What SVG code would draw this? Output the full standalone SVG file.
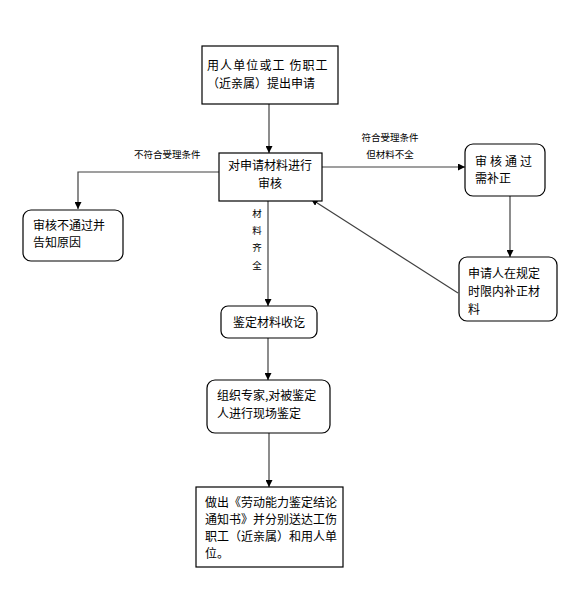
<svg xmlns="http://www.w3.org/2000/svg" width="579" height="599" viewBox="0 0 579 599">
<style>
.box{fill:#fff;stroke:#000;stroke-width:1.2}
.t{font-family:"Noto Sans CJK SC","Liberation Sans",sans-serif;font-size:12px;fill:#000}
.s{font-family:"Noto Sans CJK SC","Liberation Sans",sans-serif;font-size:9.5px;fill:#000}
.c{fill:none;stroke:#404040;stroke-width:1.2}
</style>
<defs>
<marker id="a" viewBox="0 0 10 10" refX="10" refY="5" markerWidth="7" markerHeight="7" orient="auto" markerUnits="userSpaceOnUse">
<path d="M0,0 L10,5 L0,10 z" fill="#000"/>
</marker>
</defs>
<rect width="579" height="599" fill="#fff"/>
<g id="connectors">
<line class="c" x1="269" y1="104" x2="269" y2="153" marker-end="url(#a)"/>
<polyline class="c" points="219,172 78,172 78,209" marker-end="url(#a)"/>
<line class="c" x1="322" y1="167" x2="465" y2="167" marker-end="url(#a)"/>
<line class="c" x1="510" y1="196" x2="510" y2="257" marker-end="url(#a)"/>
<line class="c" x1="458" y1="293" x2="311" y2="199" marker-end="url(#a)"/>
<line class="c" x1="268" y1="201" x2="268" y2="306" marker-end="url(#a)"/>
<line class="c" x1="268" y1="338" x2="268" y2="380" marker-end="url(#a)"/>
<line class="c" x1="269" y1="433" x2="269" y2="487" marker-end="url(#a)"/>
<text class="s" x="134" y="158">不符合受理条件</text>
<text class="s" x="390" y="141" text-anchor="middle">符合受理条件</text>
<text class="s" x="390" y="158" text-anchor="middle">但材料不全</text>
<g class="s" text-anchor="middle">
<text x="257" y="217">材</text>
<text x="257" y="234">料</text>
<text x="257" y="251">齐</text>
<text x="257" y="269">全</text>
</g>
</g>
<g id="n1">
<rect class="box" x="202" y="46" width="136" height="58"/>
<text class="t" x="207" y="70" letter-spacing="1.1">用人单位或工 伤职工</text>
<text class="t" x="207" y="88">（近亲属）提出申请</text>
</g>
<g id="n2">
<rect class="box" x="219" y="153" width="103" height="48"/>
<text class="t" x="270" y="170" text-anchor="middle">对申请材料进行</text>
<text class="t" x="270" y="188" text-anchor="middle">审核</text>
</g>
<g id="n3">
<rect class="box" x="465" y="144" width="80" height="52" rx="8"/>
<text class="t" x="475" y="166" letter-spacing="3">审核通过</text>
<text class="t" x="475" y="183">需补正</text>
</g>
<g id="n4">
<rect class="box" x="23" y="210" width="100" height="51" rx="8"/>
<text class="t" x="33" y="230">审核不通过并</text>
<text class="t" x="33" y="247">告知原因</text>
</g>
<g id="n5">
<rect class="box" x="459" y="257" width="98" height="64" rx="8"/>
<text class="t" x="468" y="278">申请人在规定</text>
<text class="t" x="468" y="296">时限内补正材</text>
<text class="t" x="468" y="314">料</text>
</g>
<g id="n6">
<rect class="box" x="221" y="306" width="96" height="32" rx="7"/>
<text class="t" x="269" y="327" text-anchor="middle">鉴定材料收讫</text>
</g>
<g id="n7">
<rect class="box" x="207" y="380" width="123" height="53" rx="8"/>
<text class="t" x="217" y="400">组织专家,对被鉴定</text>
<text class="t" x="217" y="418">人进行现场鉴定</text>
</g>
<g id="n8">
<rect class="box" x="196" y="487" width="147" height="80"/>
<text class="t" x="205" y="507">做出《劳动能力鉴定结论</text>
<text class="t" x="205" y="524">通知书》并分别送达工伤</text>
<text class="t" x="205" y="541">职工（近亲属）和用人单</text>
<text class="t" x="205" y="558">位。</text>
</g>
</svg>
